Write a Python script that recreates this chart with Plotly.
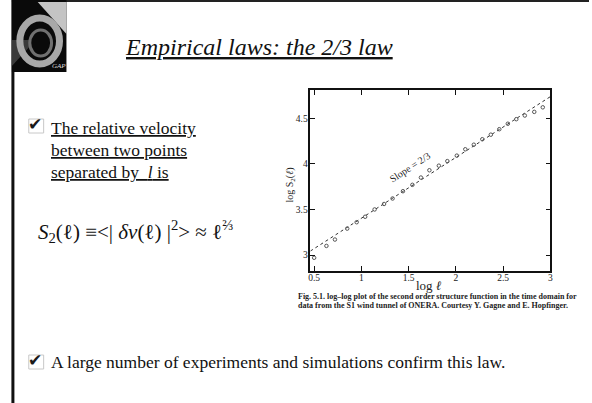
import plotly.graph_objects as go

# Second order structure function, log-log (S1 wind tunnel, ONERA)
log_l = [0.50, 0.63, 0.72, 0.85, 0.95, 1.04, 1.14, 1.24, 1.33, 1.44, 1.54, 1.63, 1.72,
         1.82, 1.91, 2.01, 2.10, 2.19, 2.28, 2.37, 2.46, 2.55, 2.64, 2.73, 2.83, 2.92]
log_s2 = [2.97, 3.10, 3.17, 3.29, 3.36, 3.42, 3.50, 3.56, 3.62, 3.70, 3.77, 3.85, 3.93,
          3.98, 4.03, 4.09, 4.16, 4.21, 4.27, 4.32, 4.38, 4.44, 4.49, 4.53, 4.57, 4.62]

# Reference line of slope 2/3
fit_x = [0.46, 3.0]
fit_slope = 2 / 3
fit_intercept = 2.737
fit_y = [fit_slope * x + fit_intercept for x in fit_x]

x_ticks = [0.5, 1, 1.5, 2, 2.5, 3]
y_ticks = [3, 3.5, 4, 4.5]

W, H = 592, 403
SERIF = "Liberation Serif, DejaVu Serif, Times New Roman, serif"


def px(x):
    return x / W


def py(y):
    return 1 - y / H


fig = go.Figure()
fig.add_trace(go.Scatter(
    x=fit_x, y=fit_y, mode="lines",
    line=dict(color="#333333", width=1, dash="dot"),
    showlegend=False, hoverinfo="skip",
))
fig.add_trace(go.Scatter(
    x=log_l, y=log_s2, mode="markers",
    marker=dict(symbol="circle-open", size=3.5, color="#555555", line=dict(width=1)),
    showlegend=False,
))

axis_common = dict(
    showline=True, linecolor="#111111", linewidth=1.5, mirror="ticks",
    ticks="inside", ticklen=5, tickcolor="#111111", showgrid=False, zeroline=False,
    tickfont=dict(family=SERIF, size=9.5, color="#222222"),
)
fig.update_xaxes(range=[0.46, 3.0], tickvals=x_ticks, ticktext=["0.5", "1", "1.5", "2", "2.5", "3"],
                 domain=[px(311), px(553)], ticklabelstandoff=-3, **axis_common)
fig.update_yaxes(range=[2.825, 4.81], tickvals=y_ticks, ticktext=["3", "3.5", "4", "4.5"],
                 domain=[py(271), py(90)], ticklabelstandoff=-1, **axis_common)

shapes = [
    # slide frame
    dict(type="line", xref="paper", yref="paper", x0=px(10), x1=px(592), y0=py(1), y1=py(1),
         line=dict(color="#222222", width=2)),
    dict(type="line", xref="paper", yref="paper", x0=px(11), x1=px(11), y0=py(0), y1=py(403),
         line=dict(color="#111111", width=3)),
    # logo block
    dict(type="rect", xref="paper", yref="paper", x0=px(10), x1=px(65), y0=py(72), y1=py(0),
         fillcolor="#0a0a0a", line=dict(width=0)),
    dict(type="path", xref="paper", yref="paper",
         path=f"M {px(36)},{py(2)} L {px(65)},{py(2)} L {px(65)},{py(34)} Z",
         fillcolor="#c4c4c4", line=dict(width=0)),
    dict(type="path", xref="paper", yref="paper",
         path=f"M {px(10)},{py(66)} L {px(34)},{py(40)} L {px(10)},{py(40)} Z",
         fillcolor="#3a3a3a", line=dict(width=0)),
    dict(type="circle", xref="paper", yref="paper", x0=px(18), x1=px(58), y0=py(64), y1=py(18),
         fillcolor="rgba(0,0,0,0)", line=dict(color="#a8a8a8", width=7)),
    dict(type="circle", xref="paper", yref="paper", x0=px(28), x1=px(50), y0=py(56), y1=py(30),
         fillcolor="#0a0a0a", line=dict(color="#707070", width=3)),
    # check boxes
    dict(type="rect", xref="paper", yref="paper", x0=px(27), x1=px(42), y0=py(133), y1=py(119),
         fillcolor="rgba(0,0,0,0)", line=dict(color="#c8c8c8", width=1)),
    dict(type="rect", xref="paper", yref="paper", x0=px(27), x1=px(42), y0=py(369), y1=py(355),
         fillcolor="rgba(0,0,0,0)", line=dict(color="#c8c8c8", width=1)),
]

annotations = [
    dict(text="<i>GAP</i>", x=px(57), y=py(66), font=dict(family=SERIF, size=7, color="#dddddd")),
    dict(text="<i><u>Empirical laws: the 2/3 law</u></i>", x=px(259), y=py(47),
         font=dict(family=SERIF, size=24, color="#111111")),
    dict(text="✔", x=px(33), y=py(124), font=dict(family="DejaVu Sans", size=17, color="#1a1a1a")),
    dict(text="<u>The relative velocity</u>", x=px(47), y=py(128), xanchor="left",
         font=dict(family=SERIF, size=17.5, color="#111111")),
    dict(text="<u>between two points</u>", x=px(47), y=py(150), xanchor="left",
         font=dict(family=SERIF, size=17.5, color="#111111")),
    dict(text="<u>separated by  <i>l</i> is</u>", x=px(47), y=py(172), xanchor="left",
         font=dict(family=SERIF, size=17.5, color="#111111")),
    dict(text="<i>S</i><sub>2</sub>(ℓ) ≡&lt;| <i>δv</i>(ℓ) |<sup>2</sup>&gt; ≈ ℓ<sup>⅔</sup>",
         x=px(34), y=py(231), xanchor="left",
         font=dict(family=SERIF, size=21, color="#111111")),
    dict(text="✔", x=px(33), y=py(360), font=dict(family="DejaVu Sans", size=17, color="#1a1a1a")),
    dict(text="A large number of experiments and simulations confirm this law.",
         x=px(47), y=py(362), xanchor="left",
         font=dict(family=SERIF, size=17.5, color="#111111")),
    # figure labels
    dict(text="Slope = 2/3", x=1.51, y=3.96, xref="x", yref="y", textangle=-33,
         font=dict(family=SERIF, size=10, color="#222222")),
    dict(text="log <i>ℓ</i>", x=px(431), y=py(285), font=dict(family=SERIF, size=13, color="#222222")),
    dict(text="log S<sub>2</sub>(<i>ℓ</i>)", x=px(290), y=py(185), textangle=-90,
         font=dict(family=SERIF, size=10, color="#222222")),
    dict(text="<b>Fig. 5.1. log–log plot of the second order structure function in the time domain for</b>",
         x=px(296), y=py(296), xanchor="left",
         font=dict(family=SERIF, size=8, color="#222222")),
    dict(text="<b>data from the S1 wind tunnel of ONERA. Courtesy Y. Gagne and E. Hopfinger.</b>",
         x=px(296), y=py(305), xanchor="left",
         font=dict(family=SERIF, size=8, color="#222222")),
]
for a in annotations:
    a.setdefault("xref", "paper")
    a.setdefault("yref", "paper")
    a["showarrow"] = False
    a.setdefault("xanchor", "center")
    a["yanchor"] = "middle"

fig.update_layout(
    width=W, height=H, margin=dict(l=0, r=0, t=0, b=0),
    paper_bgcolor="white", plot_bgcolor="white",
    shapes=shapes, annotations=annotations,
)

fig.write_html("out.html")
